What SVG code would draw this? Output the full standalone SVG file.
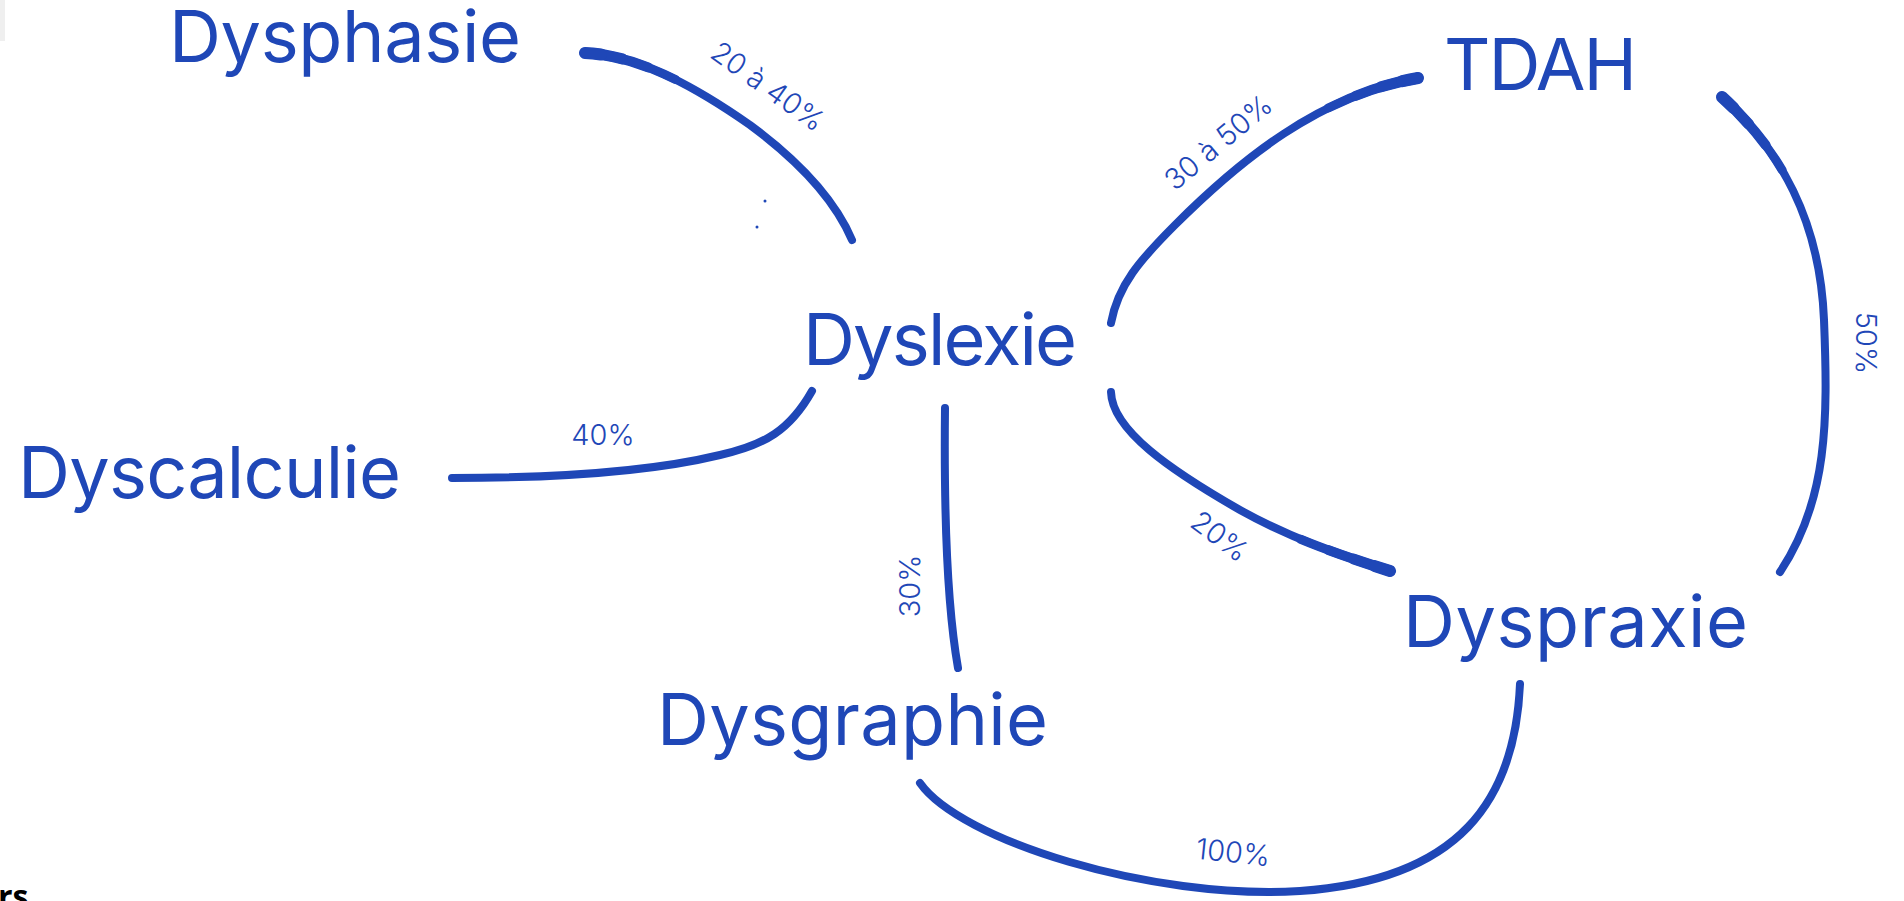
<svg xmlns="http://www.w3.org/2000/svg" xmlns:xlink="http://www.w3.org/1999/xlink" width="1904" height="901" viewBox="0 0 1904 901">
<style>
.node{font-family:Inter,"Liberation Sans",sans-serif;font-size:72px;fill:#1f47b7;font-weight:400}
.lbl{font-family:Inter,"Liberation Sans",sans-serif;font-size:29px;fill:#1f47b7;font-weight:300;text-anchor:middle;dominant-baseline:central}
.c{fill:none;stroke:#1f47b7;stroke-width:8;stroke-linecap:round;stroke-linejoin:round}
.t1{fill:none;stroke:#1f47b7;stroke-width:9;stroke-linecap:round;stroke-dasharray:95 4000}
.t2{fill:none;stroke:#1f47b7;stroke-width:10;stroke-linecap:round;stroke-dasharray:65 4000}
.t3{fill:none;stroke:#1f47b7;stroke-width:11;stroke-linecap:round;stroke-dasharray:38 4000}
.t4{fill:none;stroke:#1f47b7;stroke-width:12;stroke-linecap:round;stroke-dasharray:16 4000}
</style>
<defs>
<path id="pA" d="M585,53 C640,55 700,90 750,125 C800,162 835,200 852,240"/>
<path id="pB" d="M1418,78 C1320,95 1240,160 1175,225 C1140,260 1118,285 1111,323"/>
<path id="pC" d="M1722,97 C1780,150 1820,220 1824,320 C1828,420 1828,500 1780,572"/>
<path id="pD" d="M1390,571 C1340,555 1290,538 1240,510 C1170,470 1112,430 1111,392"/>
</defs>
<rect width="1904" height="901" fill="#ffffff"/>
<rect x="0" y="0" width="5" height="41" fill="#efefef"/>
<g id="connectors">
<use href="#pA" xlink:href="#pA" class="c"/>
<use href="#pA" xlink:href="#pA" class="t1"/>
<use href="#pA" xlink:href="#pA" class="t2"/>
<use href="#pA" xlink:href="#pA" class="t3"/>
<use href="#pA" xlink:href="#pA" class="t4"/>
<path class="c" d="M812,391 C790,430 765,445 720,455 C650,472 560,478 452,478"/>
<use href="#pB" xlink:href="#pB" class="c"/>
<use href="#pB" xlink:href="#pB" class="t1"/>
<use href="#pB" xlink:href="#pB" class="t2"/>
<use href="#pB" xlink:href="#pB" class="t3"/>
<use href="#pB" xlink:href="#pB" class="t4"/>
<use href="#pC" xlink:href="#pC" class="c"/>
<use href="#pC" xlink:href="#pC" class="t1"/>
<use href="#pC" xlink:href="#pC" class="t2"/>
<use href="#pC" xlink:href="#pC" class="t3"/>
<use href="#pC" xlink:href="#pC" class="t4"/>
<use href="#pD" xlink:href="#pD" class="c"/>
<use href="#pD" xlink:href="#pD" class="t1"/>
<use href="#pD" xlink:href="#pD" class="t2"/>
<use href="#pD" xlink:href="#pD" class="t3"/>
<use href="#pD" xlink:href="#pD" class="t4"/>
<path class="c" d="M945,408 C944,500 946,600 958,668"/>
<path class="c" d="M1520,684 C1515,800 1460,880 1300,891 C1150,900 960,840 920,783"/>
<circle cx="765" cy="201" r="1.5" fill="#1f47b7"/>
<circle cx="757" cy="227" r="1.5" fill="#1f47b7"/>
<text class="lbl" transform="translate(768,86) rotate(35.5)">20 à 40%</text>
<text class="lbl" x="603" y="434">40%</text>
<text class="lbl" transform="translate(1218,142) rotate(-40)">30 à 50%</text>
<text class="lbl" transform="translate(909,586) rotate(-90)">30%</text>
<text class="lbl" transform="translate(1866,343) rotate(90)">50%</text>
<text class="lbl" transform="translate(1220,536) rotate(37)">20%</text>
<text class="lbl" transform="translate(1233,852) rotate(6)">100%</text>
</g>
<g id="dysphasie"><text class="node" x="169" y="62" textLength="352">Dysphasie</text></g>
<g id="dyslexie"><text class="node" x="803" y="365" textLength="274">Dyslexie</text></g>
<g id="dyscalculie"><text class="node" x="18" y="498" textLength="383">Dyscalculie</text></g>
<g id="dysgraphie"><text class="node" x="657" y="745" textLength="391">Dysgraphie</text></g>
<g id="tdah"><text class="node" x="1444" y="90" textLength="193">TDAH</text></g>
<g id="dyspraxie"><text class="node" x="1403" y="647" textLength="345">Dyspraxie</text></g>
<text x="-2" y="908" font-family="'Open Sans','Liberation Sans',sans-serif" font-weight="700" font-size="32" fill="#000000">rs</text>
</svg>
